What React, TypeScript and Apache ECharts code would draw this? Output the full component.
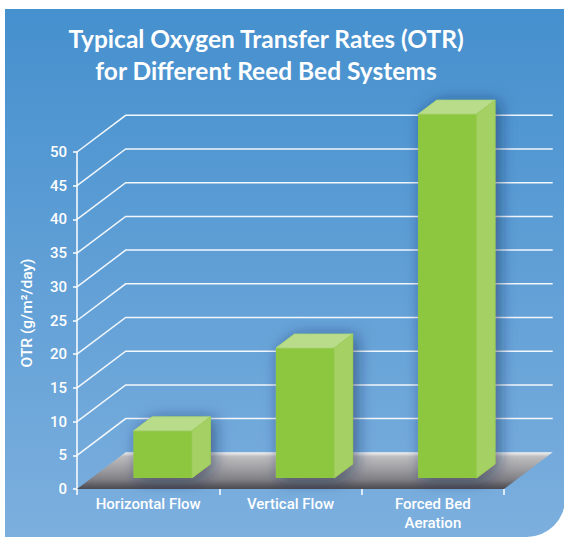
import React, { useEffect, useRef } from "react";
import * as echarts from "echarts";

const titleLines = ["Typical Oxygen Transfer Rates (OTR)", "for Different Reed Bed Systems"];
const yAxisTitle = "OTR (g/m²/day)";
const categories = ["Horizontal Flow", "Vertical Flow", "Forced Bed\nAeration"];
const otrValues = [7, 19.3, 54];
const yMin = 0;
const yMax = 50;
const yInterval = 5;
const gridTickValues = [5, 10, 15, 20, 25, 30, 35, 40, 45, 50];

// styling / projection constants
const DEPTH_X = 48.7;
const DEPTH_Y = -36.7;
const BAR_FRONT = 0.3;
const BAR_DEPTH = 0.38;
const BAR_WIDTH_RATIO = 0.41;

export default function App() {
  const ref = useRef<HTMLDivElement>(null);

  useEffect(() => {
    if (!ref.current) return;
    const chart = echarts.init(ref.current, undefined, { renderer: "svg" });

    const option: any = {
      animation: false,
      backgroundColor: "#ffffff",
      grid: { left: 77, right: 60, top: 152, bottom: 50, containLabel: false },
      xAxis: {
        type: "category",
        data: categories,
        boundaryGap: true,
        axisLine: { show: false },
        axisTick: { show: true, length: 6, lineStyle: { color: "#ffffff", width: 1.5 } },
        axisLabel: {
          color: "#ffffff",
          fontFamily: "Roboto",
          fontWeight: 500,
          fontSize: 15,
          lineHeight: 19,
          margin: 5,
        },
        splitLine: { show: false },
        z: 5,
      },
      yAxis: {
        type: "value",
        min: yMin,
        max: yMax,
        interval: yInterval,
        axisLine: { show: true, lineStyle: { color: "#ffffff", width: 1.5 } },
        axisTick: { show: true, length: 4, lineStyle: { color: "#ffffff", width: 1.5 } },
        axisLabel: {
          color: "#ffffff",
          fontFamily: "Roboto",
          fontWeight: 500,
          fontSize: 15,
          margin: 10,
        },
        splitLine: { show: false },
      },
      graphic: [
        {
          type: "rect",
          z: -100,
          shape: { x: 5, y: 9, width: 560, height: 528, r: [0, 0, 38, 0] },
          style: {
            fill: new echarts.graphic.LinearGradient(0, 0, 0, 1, [
              { offset: 0, color: "#4590ce" },
              { offset: 1, color: "#7cafde" },
            ]),
          },
        },
        {
          type: "text",
          z: 100,
          x: 266,
          y: 22,
          style: {
            text: titleLines.join("\n"),
            textAlign: "center",
            fill: "#ffffff",
            font: "bold 24.5px Lato",
            lineHeight: 32,
          },
        },
        {
          type: "text",
          z: 100,
          x: 27,
          y: 313,
          rotation: Math.PI / 2,
          style: {
            text: yAxisTitle,
            textAlign: "center",
            textVerticalAlign: "middle",
            fill: "#ffffff",
            font: "500 15.5px Roboto",
          },
        },
      ],
      series: [
        {
          type: "custom",
          name: "grid",
          clip: false,
          z: 1,
          data: gridTickValues.map((v) => [0, v]),
          encode: { x: 0, y: 1 },
          renderItem: (params: any, api: any) => {
            const cs = params.coordSys;
            const y = api.coord([0, api.value(1)])[1];
            return {
              type: "polyline",
              shape: {
                points: [
                  [cs.x, y],
                  [cs.x + DEPTH_X, y + DEPTH_Y],
                  [cs.x + cs.width + DEPTH_X, y + DEPTH_Y],
                ],
              },
              style: { stroke: "rgba(255,255,255,0.92)", lineWidth: 1.5, fill: null },
            };
          },
        },
        {
          type: "custom",
          name: "floor",
          clip: false,
          z: 2,
          data: [[0, 0]],
          encode: { x: 0, y: 1 },
          renderItem: (params: any, api: any) => {
            const cs = params.coordSys;
            const y0 = api.coord([0, 0])[1];
            return {
              type: "polygon",
              shape: {
                points: [
                  [cs.x, y0],
                  [cs.x + cs.width, y0],
                  [cs.x + cs.width + DEPTH_X, y0 + DEPTH_Y],
                  [cs.x + DEPTH_X, y0 + DEPTH_Y],
                ],
              },
              style: {
                fill: new echarts.graphic.LinearGradient(0, 0, 0, 1, [
                  { offset: 0, color: "#f4f4f4" },
                  { offset: 0.12, color: "#bdbdbf" },
                  { offset: 0.5, color: "#9a9a9e" },
                  { offset: 0.75, color: "#7e7e84" },
                  { offset: 0.9, color: "#5c5c62" },
                  { offset: 1, color: "#4a4a50" },
                ]),
              },
            };
          },
        },
        {
          type: "custom",
          name: "OTR",
          clip: false,
          z: 3,
          data: otrValues.map((v, i) => [i, v]),
          encode: { x: 0, y: 1 },
          renderItem: (params: any, api: any) => {
            const i = params.dataIndex;
            const v = api.value(1);
            const top = api.coord([i, v]);
            const base = api.coord([i, 0]);
            const band = api.size([1, 0])[0];
            const w = band * BAR_WIDTH_RATIO;
            const ox = BAR_FRONT * DEPTH_X;
            const oy = BAR_FRONT * DEPTH_Y;
            const dx = BAR_DEPTH * DEPTH_X;
            const dy = BAR_DEPTH * DEPTH_Y;
            const xl = top[0] - w / 2 + ox;
            const xr = xl + w;
            const yt = top[1] + oy;
            const yb = base[1] + oy;
            return {
              type: "group",
              children: [
                {
                  type: "polygon",
                  shape: {
                    points: [
                      [xl, yb],
                      [xl, yt],
                      [xl + dx, yt + dy],
                      [xr + dx, yt + dy],
                      [xr + dx, yb + dy],
                      [xr, yb],
                    ],
                  },
                  style: {
                    fill: "#8dc63f",
                    shadowBlur: 16,
                    shadowColor: "rgba(15,35,75,0.55)",
                    shadowOffsetX: 4,
                    shadowOffsetY: 2,
                  },
                },
                {
                  type: "polygon",
                  shape: { points: [[xl, yb], [xl, yt], [xr, yt], [xr, yb]] },
                  style: { fill: "#8dc63f" },
                },
                {
                  type: "polygon",
                  shape: { points: [[xl, yt], [xr, yt], [xr + dx, yt + dy], [xl + dx, yt + dy]] },
                  style: { fill: "#b9dc8b", stroke: "#a9d47a", lineWidth: 0.8 },
                },
                {
                  type: "polygon",
                  shape: { points: [[xr, yt], [xr + dx, yt + dy], [xr + dx, yb + dy], [xr, yb]] },
                  style: { fill: "#a5d164", stroke: "#9acb58", lineWidth: 0.8 },
                },
              ],
            };
          },
        },
      ],
    };

    chart.setOption(option);
    return () => chart.dispose();
  }, []);

  return (
    <div
      ref={ref}
      style={{ position: "fixed", left: 0, top: 0, width: 564, height: 539 }}
    />
  );
}
